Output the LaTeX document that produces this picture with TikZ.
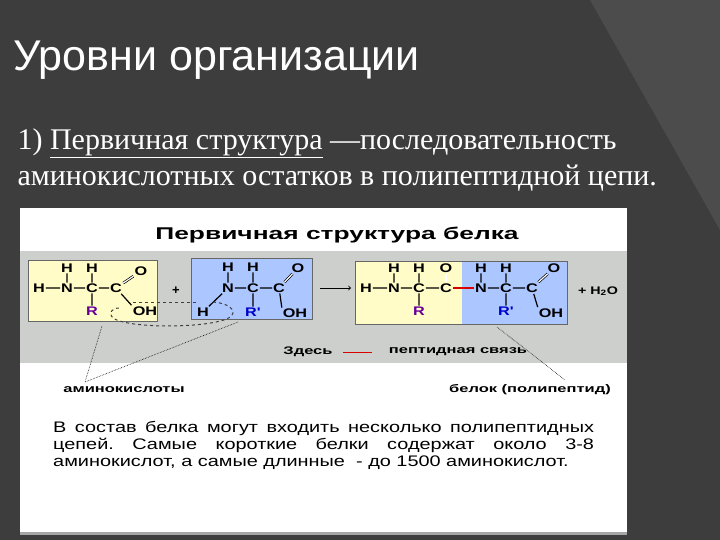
\documentclass[tikz,border=0pt]{standalone}
\usepackage{fontspec}
\setmainfont{Liberation Serif}
\newfontfamily\arial{Liberation Sans}
\newcommand{\sx}[2][1.3]{\scalebox{#1}[1]{#2}}
\begin{document}
\begin{tikzpicture}[x=1pt,y=-1pt,
  atm/.style={inner sep=0.8pt,font=\arial\bfseries\fontsize{12.5}{12.5}\selectfont},
  bd/.style={line width=1.2pt,shorten >=0.5pt,shorten <=0.5pt},
  dbd/.style={double,double distance=1.2pt,line width=0.7pt,shorten >=0.5pt,shorten <=0.5pt},
  lbl/.style={font=\arial\bfseries\fontsize{11}{12}\selectfont},
  dot/.style={densely dotted,line width=0.6pt}]
\useasboundingbox (0,0) rectangle (720,540);
\fill[black!76] (0,0) rectangle (720,540);
\fill[black!70] (590,0) -- (720,0) -- (720,230) -- cycle;
\node[anchor=west,text=white,font=\arial\fontsize{43}{46}\selectfont] (title) at (10,60) {Уровни организации};
\node[anchor=west,text=white,font=\fontsize{30}{32}\selectfont] (l1) at (14,143) {1) \underline{Первичная структура} —последовательность};
\node[anchor=west,text=white,font=\fontsize{30}{32}\selectfont] (l2) at (14,178) {аминокислотных остатков в полипептидной цепи.};
% embedded picture
\fill[white] (20,208) rectangle (627,532);
\fill[black!35] (20,532) rectangle (627,535);
\node[font=\arial\bfseries\fontsize{17}{18}\selectfont] (ptitle) at (337,235) {\sx[1.55]{Первичная структура белка}};
\fill[green!6!black!20] (20,251) rectangle (627,363);
% box 1
\draw[fill=yellow!22,draw=black!60] (28,260) rectangle (157,321);
\node[atm] (a1) at (39,288) {\sx{H}}; \node[atm] (n1) at (67,288) {\sx{N}};
\node[atm] (c1) at (92,288) {\sx{C}}; \node[atm] (k1) at (116,288) {\sx{C}};
\node[atm] (hn1) at (67,268) {\sx{H}}; \node[atm] (hc1) at (92,268) {\sx{H}};
\node[atm] (o1) at (141,271) {\sx{O}}; \node[atm] (oh1) at (145,311) {\sx{OH}};
\node[atm,text=violet!80!blue] (r1) at (92,311) {\sx{R}};
\draw[bd] (a1)--(n1) (n1)--(c1) (c1)--(k1) (n1)--(hn1) (c1)--(hc1) (c1)--(r1) (k1)--(oh1.north west);
\draw[dbd] (k1)--(o1);
\node[atm,font=\arial\bfseries\fontsize{13}{13}\selectfont] (p1) at (176,291) {+};
% box 2
\draw[fill=blue!25!white!90!cyan,draw=black!60] (191,258) rectangle (312,319);
\node[atm] (n2) at (228,288) {\sx{N}}; \node[atm] (hn2) at (228,267) {\sx{H}};
\node[atm] (c2) at (253,288) {\sx{C}}; \node[atm] (hc2) at (253,267) {\sx{H}};
\node[atm] (k2) at (279,288) {\sx{C}}; \node[atm] (o2) at (298,268) {\sx{O}};
\node[atm] (oh2) at (295,313) {\sx{OH}}; \node[atm] (h2) at (203,312) {\sx{H}};
\node[atm,text=blue!80!black] (r2) at (253,312) {\sx{R'}};
\draw[bd] (n2)--(hn2) (n2)--(c2) (c2)--(hc2) (c2)--(k2) (c2)--(r2) (k2)--(oh2.north west) (n2)--(h2);
\draw[dbd] (k2)--(o2);
% dashed reaction marks
\coordinate (d1) at (133,302); \coordinate (d2) at (197,302);
\draw[dashed,line width=1pt,black!75] (d1)--(d2);
\draw[dashed,line width=1pt,black!75] (213,302) .. controls (228,303) and (236,310) .. (232,315) .. controls (225,328) and (130,330) .. (113,318) .. controls (108,313) and (112,308) .. (119,308);
% arrow
\coordinate (ar1) at (320,288); \coordinate (ar2) at (351,288);
\draw[->,line width=0.9pt] (ar1)--(ar2);
% result box
\fill[yellow!22] (355,261) rectangle (462,324);
\fill[blue!25!white!90!cyan] (462,261) rectangle (567,324);
\draw[black!60] (355,261) rectangle (567,324);
\node[atm] (a3) at (366,288) {\sx{H}}; \node[atm] (n3) at (394,288) {\sx{N}};
\node[atm] (c3) at (419,288) {\sx{C}}; \node[atm] (k3) at (446,288) {\sx{C}};
\node[atm] (hn3) at (394,268) {\sx{H}}; \node[atm] (hc3) at (419,268) {\sx{H}};
\node[atm] (o3) at (446,268) {\sx{O}}; \node[atm,text=violet!80!blue] (r3) at (419,311) {\sx{R}};
\node[atm] (n4) at (481,288) {\sx{N}}; \node[atm] (hn4) at (481,268) {\sx{H}};
\node[atm] (c4) at (506,288) {\sx{C}}; \node[atm] (hc4) at (506,268) {\sx{H}};
\node[atm] (k4) at (532,288) {\sx{C}}; \node[atm] (o4) at (554,268) {\sx{O}};
\node[atm] (oh4) at (551,313) {\sx{OH}}; \node[atm,text=blue!80!black] (r4) at (506,311) {\sx{R'}};
\draw[bd] (a3)--(n3) (n3)--(c3) (c3)--(k3) (n3)--(hn3) (c3)--(hc3) (c3)--(r3)
  (n4)--(hn4) (n4)--(c4) (c4)--(hc4) (c4)--(k4) (c4)--(r4) (k4)--(oh4.north west);
\draw[dbd] (k3)--(o3);
\draw[dbd] (k4)--(o4);
\draw[red!85!black,line width=1.1pt] (k3)--(n4);
\node[atm,font=\arial\bfseries\fontsize{11}{11}\selectfont] (h2o) at (598,291) {\sx{+ H\textsubscript{2}O}};
% legend
\node[lbl] (zd) at (308,352) {\sx[1.5]{Здесь}};
\coordinate (rl1) at (343,352); \coordinate (rl2) at (372,352);
\draw[red!85!black,line width=1pt] (rl1)--(rl2);
\node[lbl] (pep) at (458,352) {\sx[1.5]{пептидная связь}};
% labels and pointers
\node[lbl] (am) at (124,390) {\sx[1.5]{аминокислоты}};
\node[lbl] (bel) at (530,390) {\sx[1.5]{белок (полипептид)}};
\coordinate (am1) at (102,326); \coordinate (am2) at (238,322); \coordinate (amt) at (85,382);
\coordinate (be1) at (497,327); \coordinate (bet) at (565,380);
\draw[dot] (am1)--(amt); \draw[dot] (am2)--(amt); \draw[dot] (be1)--(bet);
\node[anchor=north west,inner sep=0pt] (par) at (53,421)
  {\sx{\parbox{416pt}{\arial\fontsize{15.3}{17}\selectfont\frenchspacing В состав белка могут входить несколько полипептидных\linebreak цепей. Самые короткие белки содержат около 3-8\linebreak аминокислот, а самые длинные\ \ - до 1500 аминокислот.}}};
\end{tikzpicture}
\end{document}
